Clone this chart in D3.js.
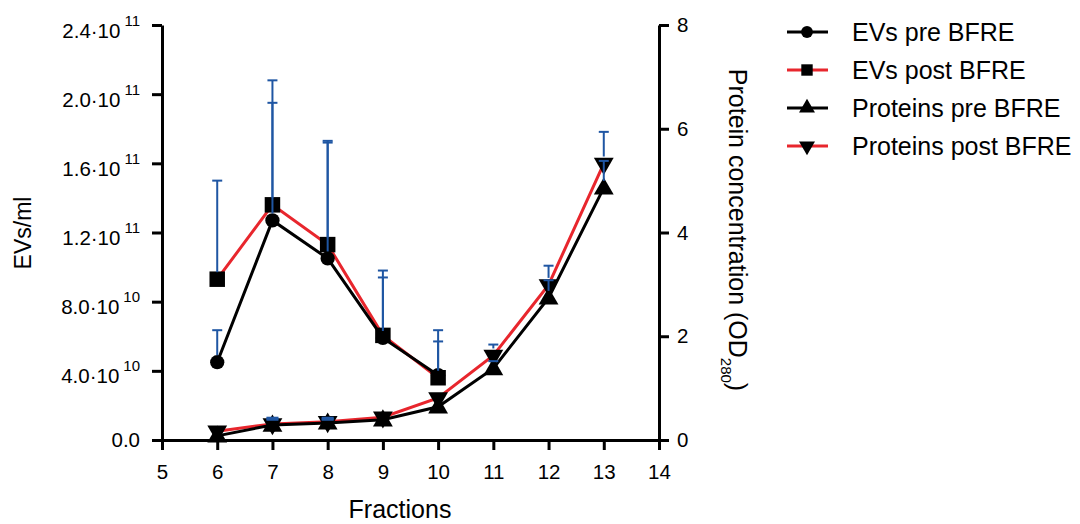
<!DOCTYPE html>
<html>
<head>
<meta charset="utf-8">
<script src="https://cdn.jsdelivr.net/npm/d3@7"></script>
<style>
  body { margin: 0; background: #fff; }
  text { font-family: "Liberation Sans", Arial, sans-serif; fill: #000; }
</style>
</head>
<body>
<svg></svg>
<script>
const width = 1080;
const height = 524;

// fractions
const evFractions = [6, 7, 8, 9, 10];
const protFractions = [6, 7, 8, 9, 10, 11, 12, 13];

// EVs/ml (left axis)
const evsPre = [4.5e10, 1.27e11, 1.05e11, 5.9e10, 3.75e10];
const evsPreErr = [6.35e10, 1.95e11, 1.72e11, 9.4e10, 5.7e10];
const evsPost = [9.3e10, 1.36e11, 1.13e11, 6.05e10, 3.6e10];
const evsPostErr = [1.5e11, 2.08e11, 1.73e11, 9.8e10, 6.35e10];

// protein OD280 (right axis)
const protPre = [0.08, 0.29, 0.33, 0.39, 0.64, 1.38, 2.74, 4.86];
const protPreErr = [null, 0.40, 0.40, null, null, 1.52, 3.08, 5.38];
const protPost = [0.17, 0.31, 0.35, 0.44, 0.81, 1.63, 2.99, 5.33];
const protPostErr = [null, 0.42, 0.42, null, null, 1.84, 3.36, 5.94];

const xTicks = [5, 6, 7, 8, 9, 10, 11, 12, 13, 14];
const leftTicks = [0, 4e10, 8e10, 1.2e11, 1.6e11, 2.0e11, 2.4e11];
const rightTicks = [0, 2, 4, 6, 8];
const legendLabels = ['EVs pre BFRE', 'EVs post BFRE', 'Proteins pre BFRE', 'Proteins post BFRE'];

const black = '#000';
const red = '#e8262d';
const blue = '#1f56a3';

const svg = d3.select('svg')
	.attr('width', width)
	.attr('height', height);

const x = d3.scaleLinear().domain([5, 14]).range([162, 659]);
const yL = d3.scaleLinear().domain([0, 2.4e11]).range([440, 25]);
const yR = d3.scaleLinear().domain([0, 8]).range([440, 25]);

// axes
const fmtLeft = (g) => {
	g.selectAll('.tick text').each(function(d) {
		const t = d3.select(this).text('');
		if (d === 0) { t.text('0.0'); return; }
		t.attr('dy', null).attr('y', 12);
		const e = Math.floor(Math.log10(d) + 1e-9);
		const m = d / Math.pow(10, e);
		t.append('tspan').text(m.toFixed(1) + '\u00b710');
		t.append('tspan').attr('dx', 4).attr('dy', -12).attr('font-size', 15).text(e);
	});
};

const axisStyle = (g) => {
	g.select('.domain').attr('stroke-width', 3).attr('stroke', black);
	g.selectAll('.tick line').attr('stroke-width', 3).attr('stroke', black);
	g.selectAll('.tick text').attr('font-size', 20.5).attr('font-family', '"Liberation Sans", Arial, sans-serif').attr('fill', black);
};

svg.append('g')
	.attr('transform', 'translate(0,440)')
	.call(d3.axisBottom(x).tickValues(xTicks).tickSize(10).tickSizeOuter(0).tickPadding(14))
	.call(axisStyle);

svg.append('g')
	.attr('transform', 'translate(162,0)')
	.call(d3.axisLeft(yL).tickValues(leftTicks).tickSize(10).tickSizeOuter(0).tickPadding(12))
	.call(axisStyle)
	.call(fmtLeft);

svg.append('g')
	.attr('transform', 'translate(659,0)')
	.call(d3.axisRight(yR).tickValues(rightTicks).tickSize(10).tickSizeOuter(0).tickPadding(8))
	.call(axisStyle);

// axis titles
svg.append('text')
	.attr('transform', 'translate(31,233) rotate(-90)')
	.attr('text-anchor', 'middle')
	.attr('font-size', 23)
	.text('EVs/ml');

svg.append('text')
	.attr('x', 400).attr('y', 518)
	.attr('text-anchor', 'middle')
	.attr('font-size', 25)
	.text('Fractions');

const rt = svg.append('text')
	.attr('transform', 'translate(729,230) rotate(90)')
	.attr('text-anchor', 'middle')
	.attr('font-size', 25);
rt.append('tspan').text('Protein concentration (OD');
rt.append('tspan').attr('dy', 8).attr('font-size', 15).text('280');
rt.append('tspan').attr('dy', -8).text(')');

// series
const series = [
	{ xs: evFractions, ys: evsPre, err: evsPreErr, scale: yL, color: black, shape: 'circle' },
	{ xs: evFractions, ys: evsPost, err: evsPostErr, scale: yL, color: red, shape: 'square' },
	{ xs: protFractions, ys: protPre, err: protPreErr, scale: yR, color: black, shape: 'up' },
	{ xs: protFractions, ys: protPost, err: protPostErr, scale: yR, color: red, shape: 'down' }
];

const symbolFor = {
	circle: d3.symbol().type(d3.symbolCircle).size(160),
	square: d3.symbol().type(d3.symbolSquare).size(240),
	up: d3.symbol().type(d3.symbolTriangle).size(170),
	down: d3.symbol().type(d3.symbolTriangle).size(170)
};

const drawOrder = [1, 0, 3, 2];
drawOrder.forEach(i => {
	const s = series[i];
	const pts = s.xs.map((f, k) => [x(f), s.scale(s.ys[k])]);
	svg.append('path')
		.attr('d', d3.line()(pts))
		.attr('fill', 'none')
		.attr('stroke', s.color)
		.attr('stroke-width', 3);
});

drawOrder.forEach(i => {
	const s = series[i];
	svg.append('g').selectAll('path')
		.data(s.xs.map((f, k) => [x(f), s.scale(s.ys[k])]))
		.enter()
		.append('path')
		.attr('d', symbolFor[s.shape])
		.attr('fill', black)
		.attr('transform', d => `translate(${d[0]},${d[1] + (s.shape === 'up' ? 1 : 0)})` + (s.shape === 'down' ? ' rotate(180)' : ''));
});

// error bars (upward only)
series.forEach(s => {
	s.xs.forEach((f, k) => {
		const e = s.err[k];
		if (e == null) return;
		const cx = x(f);
		const y0 = s.scale(s.ys[k]) - 7;
		const y1 = s.scale(e);
		if (y1 >= y0) {
			svg.append('line')
				.attr('x1', cx - 6).attr('x2', cx + 6)
				.attr('y1', y1).attr('y2', y1)
				.attr('stroke', blue).attr('stroke-width', 3);
			return;
		}
		svg.append('line')
			.attr('x1', cx).attr('x2', cx)
			.attr('y1', y0).attr('y2', y1)
			.attr('stroke', blue).attr('stroke-width', 2);
		svg.append('line')
			.attr('x1', cx - 5).attr('x2', cx + 5)
			.attr('y1', y1).attr('y2', y1)
			.attr('stroke', blue).attr('stroke-width', 2);
	});
});

// legend
const legend = svg.append('g');
legendLabels.forEach((label, i) => {
	const ly = 32 + i * 38;
	const s = series[i];
	legend.append('line')
		.attr('x1', 787).attr('x2', 828)
		.attr('y1', ly).attr('y2', ly)
		.attr('stroke', s.color).attr('stroke-width', 3);
	legend.append('path')
		.attr('d', d3.symbol().type(s.shape === 'circle' ? d3.symbolCircle : s.shape === 'square' ? d3.symbolSquare : d3.symbolTriangle).size(s.shape === 'square' ? 130 : 110))
		.attr('transform', `translate(807,${ly})` + (s.shape === 'down' ? ' rotate(180)' : ''))
		.attr('fill', black);
	legend.append('text')
		.attr('x', 852).attr('y', ly)
		.attr('dy', '0.35em')
		.attr('font-size', 25)
		.text(label);
});
</script>
</body>
</html>
